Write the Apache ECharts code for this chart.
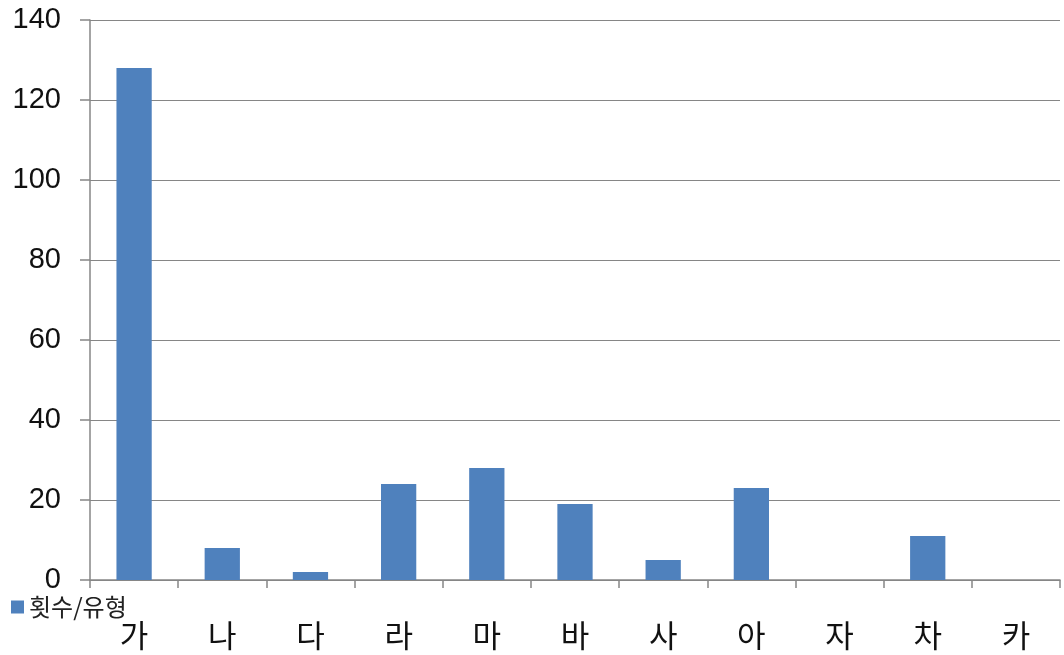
<!DOCTYPE html>
<html><head><meta charset="utf-8">
<script src="https://cdn.jsdelivr.net/npm/echarts@6/dist/echarts.min.js"></script>
<style>html,body{margin:0;padding:0;background:#fff}#c{width:1064px;height:655px}</style>
</head><body><div id="c"></div>
<script>
const categories = ['가','나','다','라','마','바','사','아','자','차','카'];
const counts = [128, 8, 2, 24, 28, 19, 5, 23, 0, 11, 0];
const seriesName = '횟수/유형';
const chart = echarts.init(document.getElementById('c'));
const font = '"Noto Sans CJK KR", "Liberation Sans", sans-serif';
chart.setOption({
  animation: false,
  textStyle: {fontFamily: font},
  legend: {
    left: 6, top: 590, itemWidth: 13, itemHeight: 13, itemGap: 6,
    icon: 'rect',
    textStyle: {fontSize: 24, color: '#222', fontFamily: font},
    data: [seriesName]
  },
  grid: {left: 90, right: 4, top: 20, bottom: 75, containLabel: false},
  xAxis: {
    type: 'category', data: categories,
    axisLine: {lineStyle: {color: '#868686', width: 1.5}},
    axisTick: {show: true, length: 8, interval: 0, lineStyle: {color: '#868686', width: 1.5}},
    axisLabel: {fontSize: 31, color: '#111', margin: 40, fontFamily: font, interval: 0}
  },
  yAxis: {
    type: 'value', min: 0, max: 140, interval: 20,
    axisLine: {show: true, lineStyle: {color: '#868686', width: 1.5}},
    axisTick: {show: true, length: 10, lineStyle: {color: '#868686', width: 1.5}},
    splitLine: {lineStyle: {color: '#868686', width: 1.2}},
    axisLabel: {fontSize: 29, color: '#111', margin: 29, fontFamily: '"Liberation Sans", "DejaVu Sans", sans-serif'}
  },
  series: [{
    name: seriesName, type: 'bar', data: counts,
    barWidth: '40%',
    itemStyle: {color: '#4F81BD'}
  }]
});
</script></body></html>
